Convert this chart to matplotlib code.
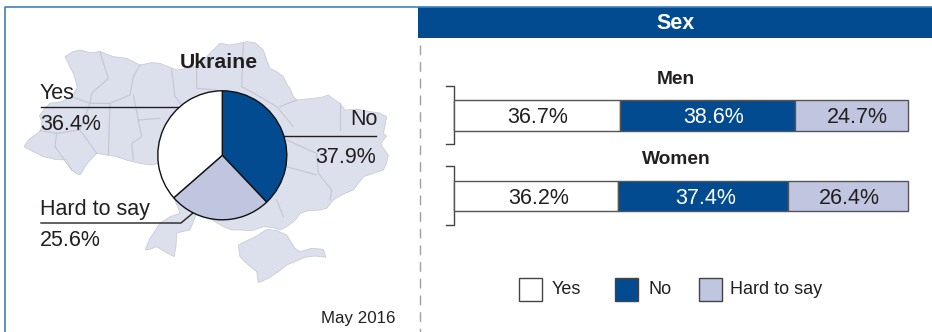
"""Ukraine opinion poll, May 2016: overall pie over a map, split by sex as stacked bars."""
import matplotlib
matplotlib.use("Agg")
import matplotlib.pyplot as plt
from matplotlib.patches import Polygon, Rectangle

answers = ["Yes", "No", "Hard to say"]
overall = [36.4, 37.9, 25.6]
groups = ["Men", "Women"]
men = [36.7, 38.6, 24.7]
women = [36.2, 37.4, 26.4]

BLUE = "#034b91"
LILAC = "#c0c6e0"
MAPC = "#dcdfec"
BORDER = "#c4c7cf"
INK = "#231f20"
colors = {"Yes": "white", "No": BLUE, "Hard to say": LILAC}

# outlines, in 3x zoom pixels
ukraine = [(72,440),(85,420),(105,405),(122,392),(126,365),(118,348),(135,325),(150,310),(185,305),(215,290),
           (232,262),(222,225),(195,170),(218,155),(240,150),(270,158),(300,155),(340,170),(380,175),(420,195),
           (455,188),(480,190),(505,200),(530,210),(565,205),(600,195),(625,165),(660,130),(690,135),(715,130),
           (740,125),(765,128),(790,150),(800,180),(810,205),(835,218),(850,230),(862,255),(870,265),(880,290),
           (890,300),(915,298),(940,295),(965,292),(985,285),(1005,300),(1020,310),(1035,330),(1075,328),(1110,335),
           (1135,338),(1160,350),(1155,378),(1150,400),(1160,408),(1142,430),(1150,445),(1165,465),(1160,490),(1150,510),
           (1120,520),(1090,530),(1075,550),(1060,570),(1030,582),(1000,600),(980,625),(960,630),(925,632),(900,640),
           (890,655),(880,665),(860,680),(840,690),(815,682),(790,680),(755,692),(720,690),(695,690),(670,680),
           (620,650),(590,640),(580,665),(570,690),(545,695),(530,700),(528,740),(522,770),(495,755),(470,740),
           (450,748),(435,750),(450,715),(480,670),(510,650),(540,640),(525,600),(480,490),(450,495),(420,490),
           (385,482),(350,470),(320,465),(290,460),(262,490),(240,525),(228,520),(215,510),(208,495),(200,480),
           (165,478),(130,470),(100,455)]
crimea = [(715,735),(745,720),(770,708),(800,688),(830,692),(860,705),(885,745),(900,755),(935,745),(970,748),
          (978,772),(945,768),(915,772),(885,785),(860,795),(835,815),(805,835),(775,848),(770,815),(745,795),(720,770)]
regions = [[(300,155),(325,235),(275,280),(270,310),(215,290)],
           [(120,392),(170,400),(240,390),(270,310)],
           [(170,400),(165,440),(215,510)],
           [(240,390),(290,460)],
           [(330,310),(325,465)],
           [(270,310),(330,310),(390,285),(400,230),(420,195)],
           [(400,285),(415,360),(425,410),(395,430),(400,480)],
           [(515,210),(525,290),(545,315)],
           [(590,200),(590,265),(650,270)],
           [(730,130),(725,260),(780,290),(830,320),(880,380)],
           [(840,320),(890,300)],
           [(1020,310),(1020,390)],
           [(860,420),(950,460),(955,520),(995,570),(990,600)],
           [(860,500),(950,525)],
           [(830,600),(850,650)],
           [(415,360),(480,355)]]


def px(pts):
    return [(x / 3, y / 3) for x, y in pts]


plt.rcParams["font.family"] = ["Liberation Sans", "DejaVu Sans"]

fig = plt.figure(figsize=(9.32, 3.32), dpi=100)
bg = fig.add_axes([0, 0, 1, 1])
bg.set_xlim(0, 932); bg.set_ylim(332, 0); bg.axis("off")

# frame, header, divider
bg.plot([4.5, 4.5, 932], [332, 6.5, 6.5], color="#3f80b4", lw=1.2)
bg.add_patch(Rectangle((418, 7), 514, 31, fc=BLUE, ec="none"))
bg.text(676, 23.5, "Sex", color="white", fontsize=15.5, weight="bold", ha="center", va="center")
bg.plot([419.5, 419.5], [45, 332], color="#a0a0a0", lw=1, dashes=(7, 5))

# map
bg.add_patch(Polygon(px(ukraine), fc=MAPC, ec=BORDER, lw=0.5))
bg.add_patch(Polygon(px(crimea), fc=MAPC, ec=BORDER, lw=0.5))
for r in regions:
    xy = px(r)
    bg.plot([p[0] for p in xy], [p[1] for p in xy], color=BORDER, lw=0.8)
bg.text(219, 62, "Ukraine", color=INK, fontsize=15.3, weight="bold", ha="center", va="center")

# pie, clockwise from 12 o'clock: No, Hard to say, Yes
order = ["No", "Hard to say", "Yes"]
vals = [overall[answers.index(k)] for k in order]
pie = fig.add_axes([(222.3 - 64.5) / 932, 1 - (155.3 + 64.5) / 332, 129 / 932, 129 / 332])
pie.pie(vals, colors=[colors[k] for k in order], startangle=90, counterclock=False, radius=1,
        wedgeprops=dict(edgecolor="#111111", linewidth=1.0))
pie.set_xlim(-1, 1); pie.set_ylim(-1, 1)
pie.patch.set_alpha(0)

# pie labels and leaders
bg.plot([40.5, 181], [106.5, 106.5], color=INK, lw=1, zorder=3)
bg.plot([284, 376], [136, 136], color=INK, lw=1, zorder=3)
bg.plot([41, 181, 193], [223, 223, 213], color=INK, lw=1, zorder=3)
bg.text(40, 93.5, answers[0], color=INK, fontsize=15.5, ha="left", va="center")
bg.text(40, 124.5, f"{overall[0]}%", color=INK, fontsize=15.5, ha="left", va="center")
bg.text(378, 119.5, answers[1], color=INK, fontsize=15.5, ha="right", va="center")
bg.text(376, 157.5, f"{overall[1]}%", color=INK, fontsize=15.5, ha="right", va="center")
bg.text(40, 210, answers[2], color=INK, fontsize=15.5, ha="left", va="center")
bg.text(40, 240, f"{overall[2]}%", color=INK, fontsize=15.5, ha="left", va="center")
bg.text(395, 318.5, "May 2016", color=INK, fontsize=12.2, ha="right", va="center")

# stacked bars on their own 0-100 scale, y in picture pixels
bars = fig.add_axes([453.5 / 932, 0, 454 / 932, 1])
bars.set_xlim(0, 100); bars.set_ylim(332, 0); bars.axis("off"); bars.patch.set_alpha(0)
bar_y = [115.5, 196]
title_y = [79, 160]
label_shift = [[1, 6, 5.5], [3, 3, 1.5]]  # labels are not centred in the segments, px
for name, row, y, ty, shift in zip(groups, [men, women], bar_y, title_y, label_shift):
    left = 0
    for ans, v, dx in zip(answers, row, shift):
        bars.barh(y, v, left=left, height=30.5, color=colors[ans], edgecolor="#555555", linewidth=1, clip_on=False)
        bars.text(left + v / 2 + dx / 4.54, y + 2, f"{v}%", color="white" if ans == "No" else INK,
                  fontsize=15.5, ha="center", va="center")
        left += v
    bg.text(676, ty, name, color=INK, fontsize=13.8, weight="bold", ha="center", va="center")
    bg.plot([446, 453.5, 453.5, 446], [y - 30, y - 30, y + 28.5, y + 28.5], color="#444444", lw=1)

# legend
for ans, x0, tx in zip(answers, [518.5, 614.5, 699], [552, 648, 730]):
    bg.add_patch(Rectangle((x0, 278), 23, 22.5, fc=colors[ans], ec="#444444", lw=1))
    bg.text(tx, 289, ans, color=INK, fontsize=13, ha="left", va="center")

fig.savefig("out.png", dpi=100)
